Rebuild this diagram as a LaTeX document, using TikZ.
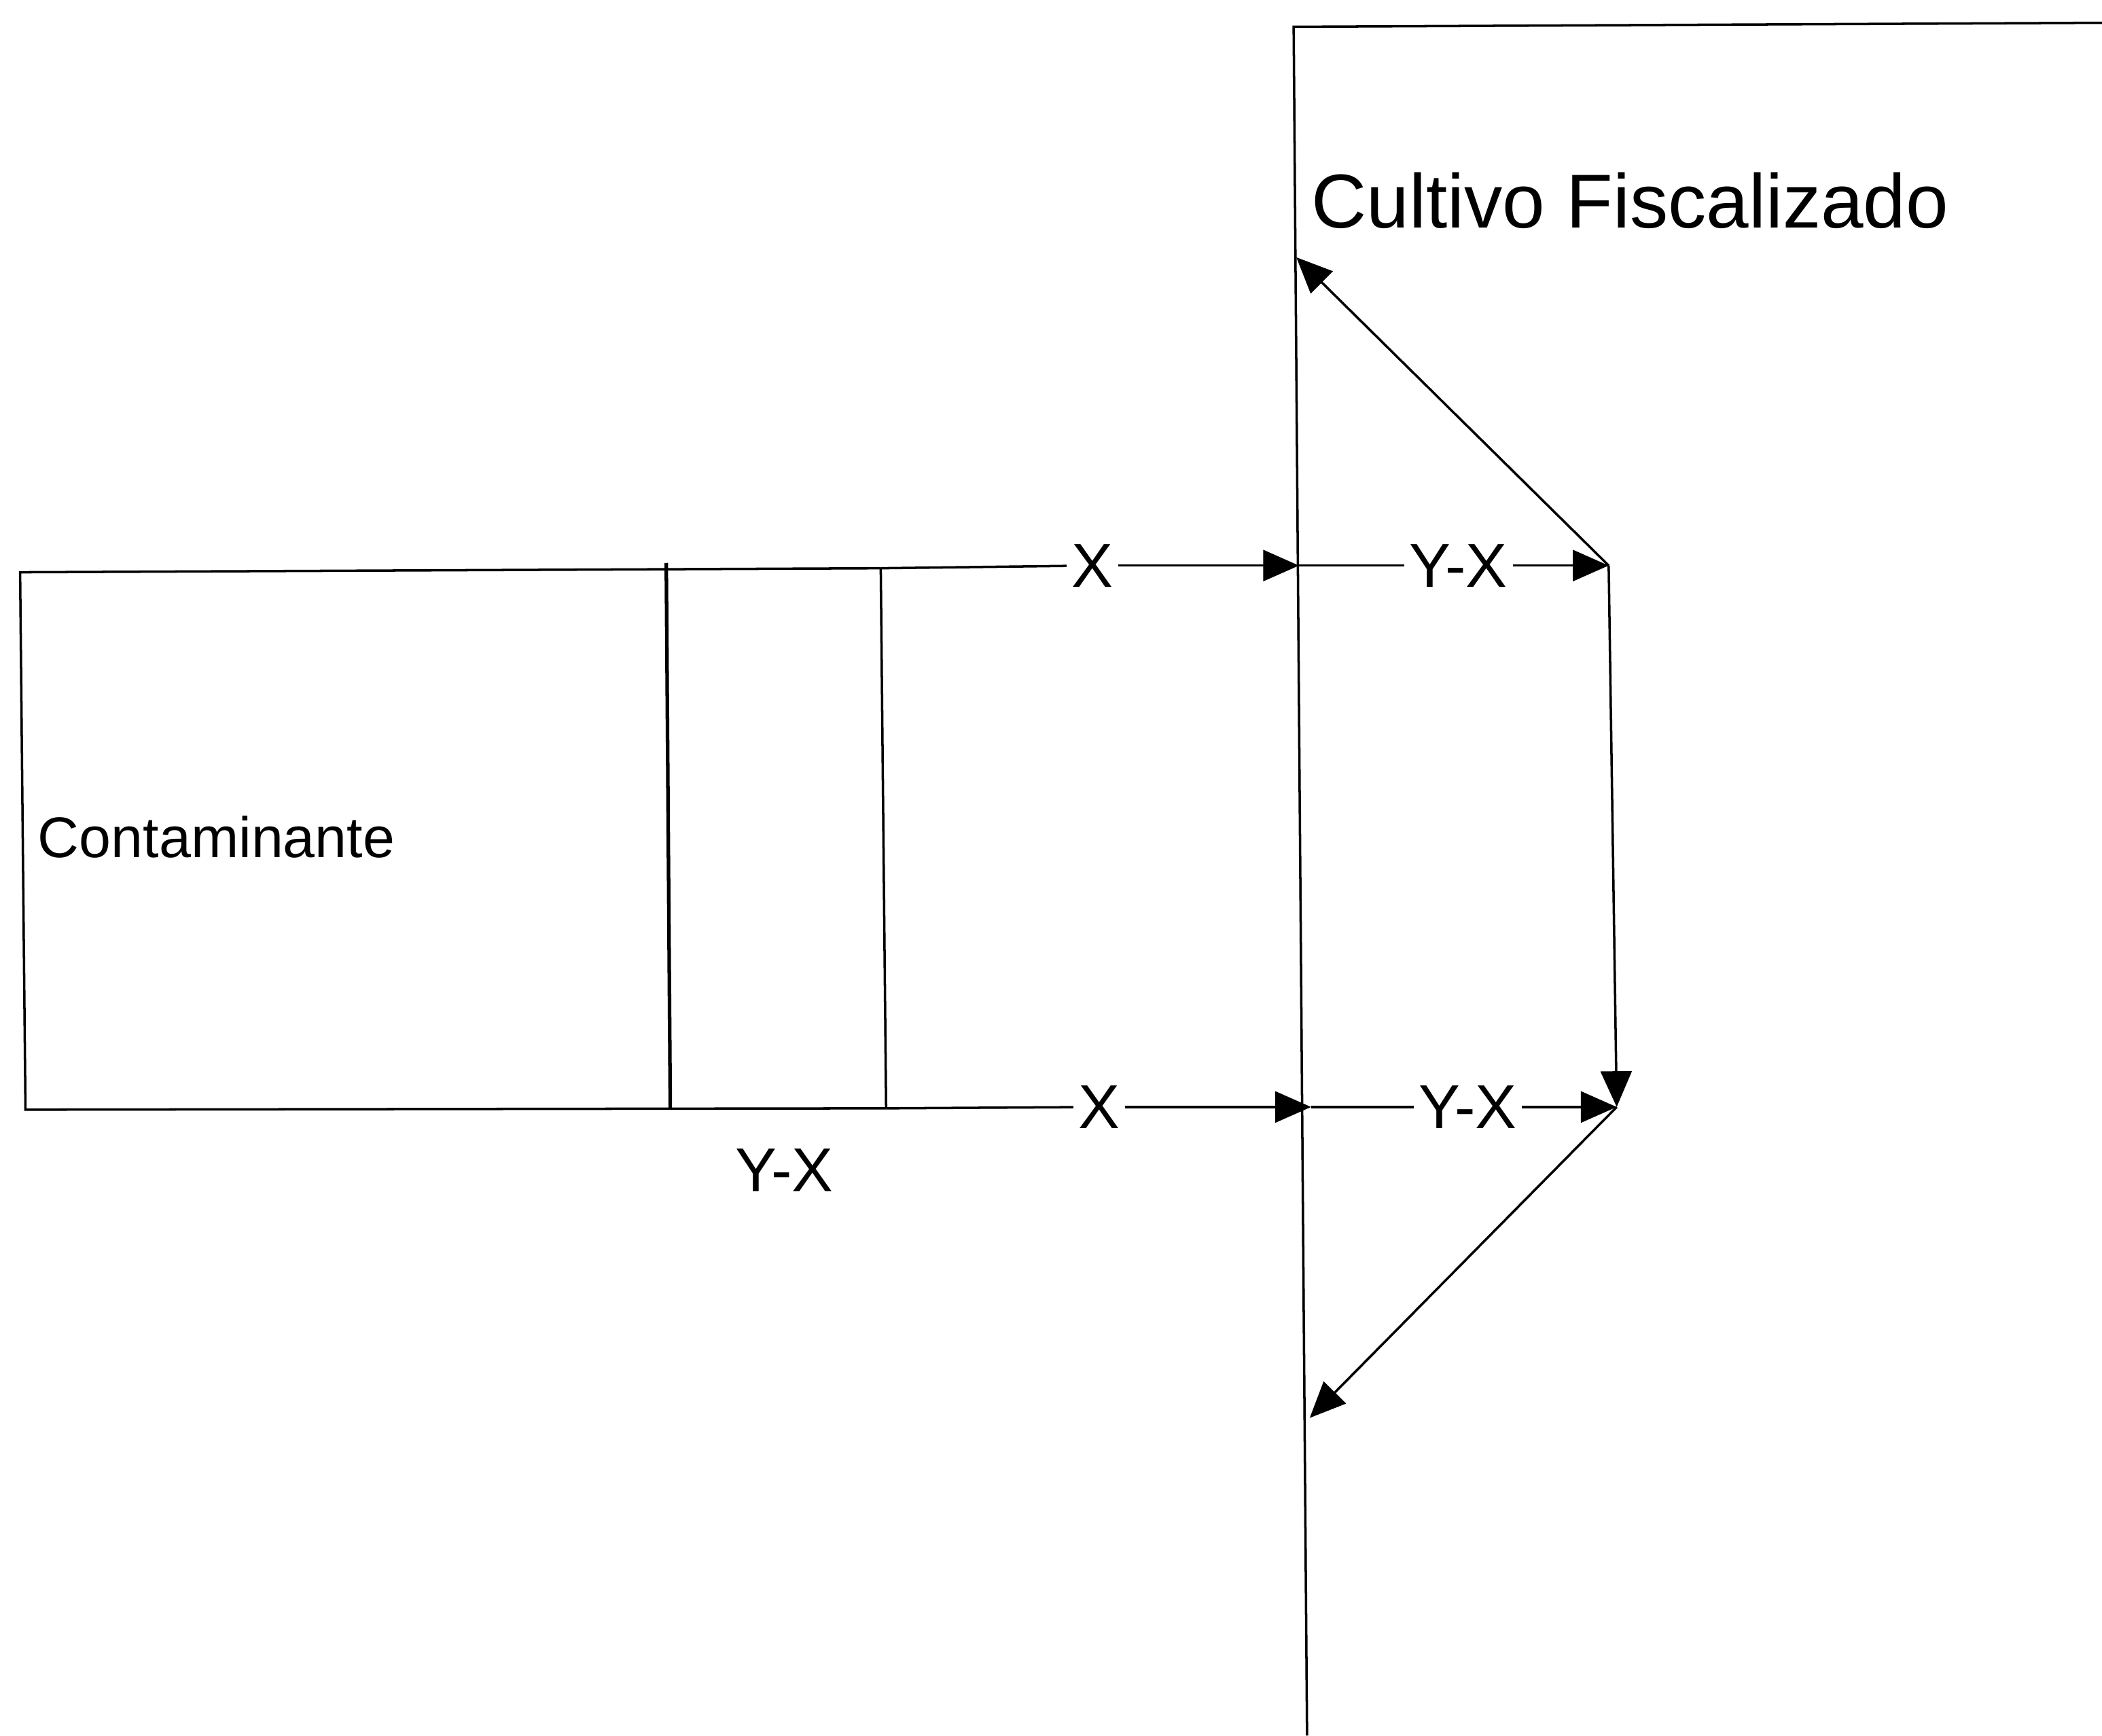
\documentclass[tikz,border=0pt]{standalone}
\usepackage{fontspec}
\setmainfont{Liberation Sans}
\usetikzlibrary{arrows.meta}
\begin{document}
\begin{tikzpicture}[x=0.01973cm,y=-0.01973cm,
  ln/.style={line width=1pt,black},
  thk/.style={line width=1.5pt,black},
  arr/.style={ln,-{Triangle[length=15pt,width=13pt]}},
  lbl/.style={fill=white,inner sep=2pt,font=\fontsize{26}{30}\selectfont},
  big/.style={inner sep=0pt,font=\fontsize{24}{28}\selectfont},
  small/.style={inner sep=0pt,font=\fontsize{26}{30}\selectfont},
  title/.style={inner sep=0pt,font=\fontsize{32}{36}\selectfont}]
\useasboundingbox (0,0) rectangle (1568,1295);
% coordinates
\coordinate (c1) at (15,427);
\coordinate (c2) at (19,828);
\coordinate (v1t) at (497,420);
\coordinate (v1b) at (500,828);
\coordinate (v2t) at (657,424);
\coordinate (v2b) at (661,827);
\coordinate (ta) at (969,422);
\coordinate (ba) at (978,826);
\coordinate (tr) at (1200,422);
\coordinate (br) at (1206,826);
\coordinate (dt) at (967,192);
\coordinate (db) at (977,1058);
\coordinate (ct) at (965,20);
\coordinate (cb) at (975,1295);
\coordinate (cr) at (1568,17);
% cultivo region boundary
\draw[ln] (cb) -- (ct) -- (cr);
% contaminante box
\draw[ln] (v2t) -- (c1) -- (c2) -- (v2b);
\draw[thk] (v1t) -- (v1b);
\draw[ln] (v2t) -- (v2b);
% labels
\node[big,anchor=base west] (cont) at (28,640) {Contaminante};
\node[title,anchor=base west] (cult) at (978,170) {Cultivo Fiscalizado};
\node[lbl] (x1) at (815,422) {X};
\node[lbl] (x2) at (820,826) {X};
\node[lbl] (yx1) at (1088,422) {Y-X};
\node[lbl] (yx2) at (1095,826) {Y-X};
\node[small] (yx3) at (585,873) {Y-X};
% arrows
\draw[ln] (v2t) -- (x1);
\draw[arr] (x1) -- (ta);
\draw[ln] (ta) -- (yx1);
\draw[arr] (yx1) -- (tr);
\draw[ln] (v2b) -- (x2);
\draw[arr] (x2) -- (ba);
\draw[ln] (ba) -- (yx2);
\draw[arr] (yx2) -- (br);
\draw[arr] (tr) -- (br);
\draw[arr] (tr) -- (dt);
\draw[arr] (br) -- (db);
\end{tikzpicture}
\end{document}
